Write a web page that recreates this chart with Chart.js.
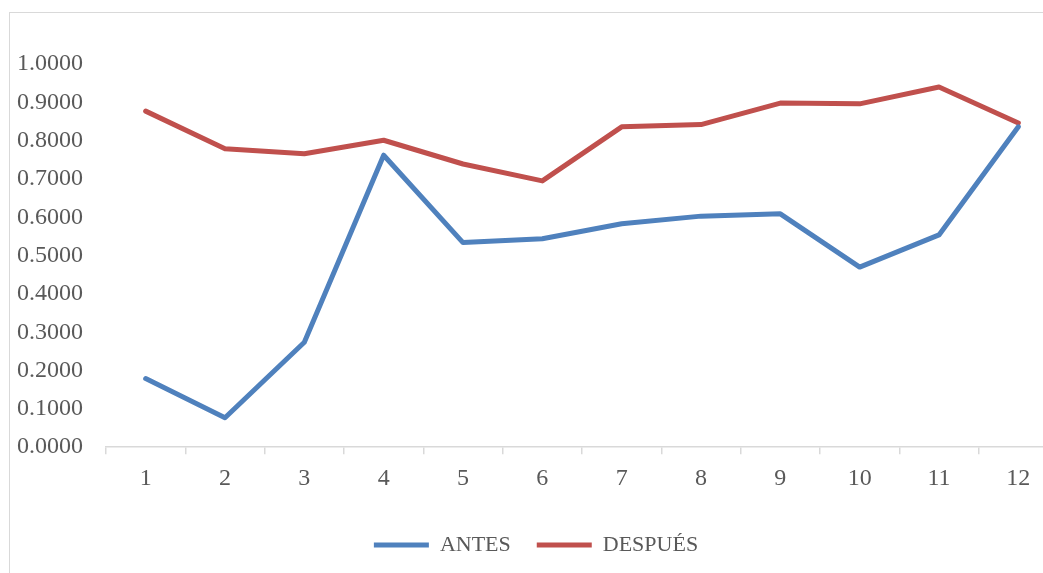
<!DOCTYPE html>
<html>
<head>
<meta charset="utf-8">
<script src="https://cdn.jsdelivr.net/npm/chart.js@4.4.1/dist/chart.umd.min.js"></script>
<style>
  html, body { margin: 0; padding: 0; background: #fff; overflow: hidden; width: 1043px; height: 573px; }
  #frame { position: absolute; left: 9px; top: 12px; width: 1200px; height: 1000px; border: 1.5px solid #d9d9d9; box-sizing: border-box; }
  #c { position: absolute; left: 0; top: 0; }
</style>
</head>
<body>
<div id="frame"></div>
<canvas id="c" width="1072" height="573"></canvas>
<script>
// Categories along the horizontal axis
const categories = ['1', '2', '3', '4', '5', '6', '7', '8', '9', '10', '11', '12'];
// Series values
const antes = [0.179, 0.077, 0.274, 0.762, 0.534, 0.544, 0.583, 0.603, 0.609, 0.470, 0.554, 0.836];
const despues = [0.877, 0.779, 0.766, 0.801, 0.739, 0.695, 0.836, 0.842, 0.898, 0.896, 0.940, 0.846];
// Series names
const seriesNames = ['ANTES', 'DESPUÉS'];
// Vertical axis range
const yMin = 0, yMax = 1, yStep = 0.1;

const FONT = "'Liberation Serif', 'DejaVu Serif', serif";
const TEXT = '#595959';
const AXIS = '#d9d9d9';

new Chart(document.getElementById('c'), {
  type: 'line',
  data: {
    labels: categories,
    datasets: [
      {
        label: seriesNames[0], data: antes,
        borderColor: '#4f81bd', backgroundColor: '#4f81bd',
        borderWidth: 5, borderCapStyle: 'round', borderJoinStyle: 'round',
        pointRadius: 0, tension: 0, fill: false
      },
      {
        label: seriesNames[1], data: despues,
        borderColor: '#c0504d', backgroundColor: '#c0504d',
        borderWidth: 5, borderCapStyle: 'round', borderJoinStyle: 'round',
        pointRadius: 0, tension: 0, fill: false
      }
    ]
  },
  options: {
    responsive: false,
    animation: false,
    devicePixelRatio: 1,
    layout: { padding: { top: 64, left: 14, right: 14, bottom: 7 } },
    scales: {
      x: {
        type: 'category',
        offset: true,
        afterFit: scale => { scale.height += 5; },
        grid: { display: true, offset: true, drawOnChartArea: false, drawTicks: true, tickLength: 7, color: AXIS, lineWidth: 1.5 },
        border: { display: true, color: AXIS, width: 1.5 },
        ticks: { color: TEXT, font: { family: FONT, size: 24 }, padding: 10, maxRotation: 0, autoSkip: false }
      },
      y: {
        min: yMin, max: yMax,
        afterFit: scale => { scale.width = 92; },
        grid: { display: false, drawTicks: false },
        border: { display: false },
        ticks: {
          stepSize: yStep, color: TEXT, font: { family: FONT, size: 24 }, padding: 23,
          callback: v => Number(v).toFixed(4)
        }
      }
    },
    plugins: {
      tooltip: { enabled: false },
      legend: {
        position: 'bottom',
        labels: {
          usePointStyle: true, pointStyle: 'line', pointStyleWidth: 55,
          color: TEXT, font: { family: FONT, size: 22 }, padding: 26
        }
      }
    }
  }
});
</script>
</body>
</html>
